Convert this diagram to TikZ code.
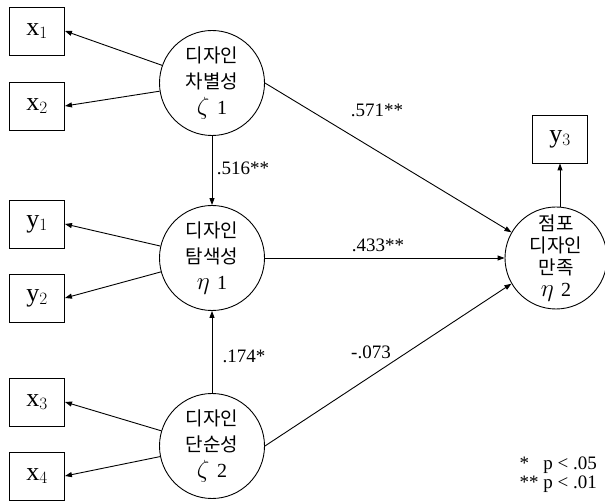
\documentclass[tikz,border=0pt]{standalone}
\usepackage{fontspec}
\setmainfont{Liberation Serif}
\newfontfamily\krfont{Noto Sans CJK KR}
\usetikzlibrary{arrows.meta}
\tikzset{
    latent/.style={
        circle, draw, line width=0.9pt,
        minimum size=105pt, inner sep=0pt,
        align=center,
        font=\krfont\fontsize{19}{26}\selectfont
    },
    % 观测变量方框
    observed/.style={
        rectangle, draw, line width=0.9pt,
        minimum width=55pt, minimum height=48pt,
        font=\fontsize{26}{26}\selectfont
    },
    patharrow/.style={
        line width=0.9pt,
        -{Triangle[length=7pt, width=5pt]}
    },
    coef/.style={font=\fontsize{19}{19}\selectfont}
}
\newcommand{\grk}[2]{{\rmfamily\fontsize{30}{30}\selectfont$#1$\ \fontsize{20}{20}\selectfont #2}}

\begin{document}
\begin{tikzpicture}[x=1pt,y=-1pt]
	\useasboundingbox (0,0) rectangle (605,502);
	
	% 潜变量
	\node[latent] (z1) at (212,83) {디자인\\차별성\\\grk{\zeta}{1}};
	\node[latent] (e1) at (212,258) {디자인\\탐색성\\\grk{\eta}{1}};
	\node[latent] (z2) at (212,446) {디자인\\단순성\\\grk{\zeta}{2}};
	\node[latent, minimum size=102pt, font=\krfont\fontsize{19}{22}\selectfont] (e2) at (556,258) {점포\\디자인\\만족\\\grk{\eta}{2}};
	
	% 观测变量
	\node[observed] (x1) at (37,31) {x$_{1}$};
	\node[observed] (x2) at (37,106) {x$_{2}$};
	\node[observed] (y1) at (37,224) {y$_{1}$};
	\node[observed] (y2) at (37,298) {y$_{2}$};
	\node[observed] (x3) at (37,402) {x$_{3}$};
	\node[observed] (x4) at (37,476) {x$_{4}$};
	\node[observed] (y3) at (560,139) {y$_{3}$};
	
	% 测量箭头
	\draw[patharrow] (z1) -- (x1.east);
	\draw[patharrow] (z1) -- (x2.east);
	\draw[patharrow] (e1) -- (y1.east);
	\draw[patharrow] (e1) -- (y2.east);
	\draw[patharrow] (z2) -- (x3.east);
	\draw[patharrow] (z2) -- (x4.east);
	\draw[patharrow] (e2.north -| y3) -- (y3.south);
	
	% 路径箭头
	\draw[patharrow] (z1) -- (e1);
	\draw[patharrow] (z2) -- (e1);
	\draw[patharrow] (z1.east) -- (e2.150);
	\draw[patharrow] (e1.east |- e2.west) -- (e2.west);
	\draw[patharrow] (z2.east) -- (e2.210);
	
	% 系数
	\node[coef] (c1) at (377,110) {.571**};
	\node[coef] (c2) at (243,168) {.516**};
	\node[coef] (c3) at (378,245) {.433**};
	\node[coef] (c4) at (244,356) {.174*};
	\node[coef] (c5) at (371,352) {-.073};
	
	\node[coef, align=left, anchor=west] (note) at (516,475) {*\ \ \ p < .05\\** p < .01};
\end{tikzpicture}
\end{document}
